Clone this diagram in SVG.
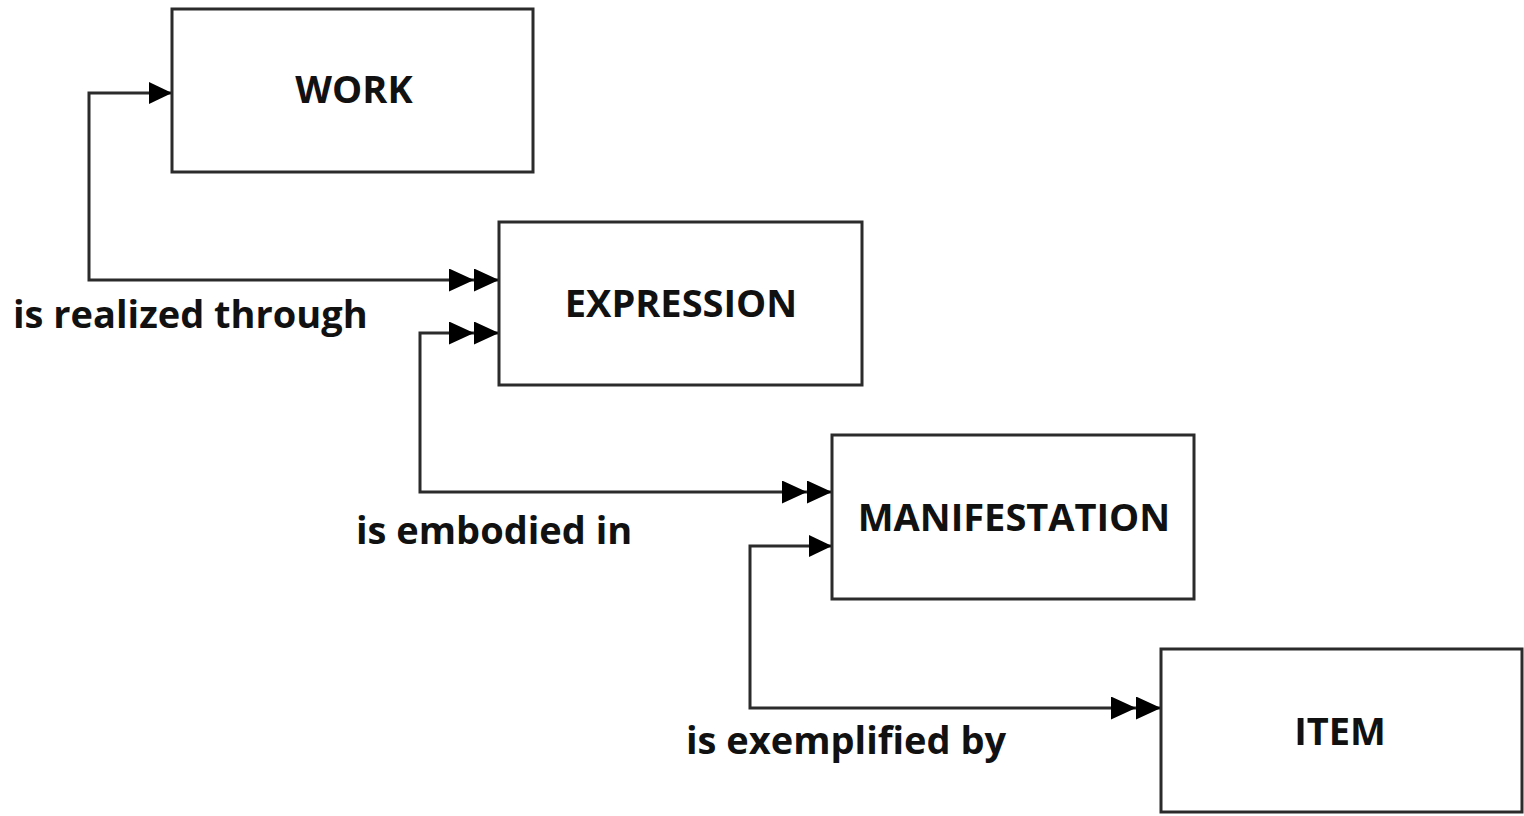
<svg xmlns="http://www.w3.org/2000/svg" width="1524" height="816" viewBox="0 0 1524 816">
<style>
.box{fill:#fff;stroke:#2b2b2b;stroke-width:3}
.t{font-family:"Open Sans","Liberation Sans",sans-serif;font-weight:bold;font-size:38px;fill:#111;text-anchor:middle}
.l{font-family:"Open Sans","Liberation Sans",sans-serif;font-weight:bold;font-size:38px;fill:#111}
.c{fill:none;stroke:#2b2b2b;stroke-width:3}
</style>
<defs>
<marker id="a1" markerUnits="userSpaceOnUse" viewBox="0 0 23 22" markerWidth="23" markerHeight="22" refX="23" refY="11" orient="auto-start-reverse"><path d="M0,0 L23,11 L0,22 z" fill="#000"/></marker>
<marker id="a2" markerUnits="userSpaceOnUse" viewBox="0 0 50 23" markerWidth="50" markerHeight="23" refX="50" refY="11.5" orient="auto-start-reverse"><path d="M0,0 L25,11.5 L0,23 z M25,0 L50,11.5 L25,23 z" fill="#000"/></marker>
</defs>
<rect width="1524" height="816" fill="#fff"/>
<g id="connectors">
<path class="c" d="M172,93 H89 V280 H499" marker-start="url(#a1)" marker-end="url(#a2)"/>
<path class="c" d="M499,333 H420 V492 H832" marker-start="url(#a2)" marker-end="url(#a2)"/>
<path class="c" d="M832,546 H750 V708 H1161" marker-start="url(#a1)" marker-end="url(#a2)"/>
</g>
<g id="work"><rect class="box" x="172" y="9" width="361" height="163"/><text class="t" x="354" y="103">WORK</text></g>
<g id="expression"><rect class="box" x="499" y="222" width="363" height="163"/><text class="t" x="681" y="317">EXPRESSION</text></g>
<g id="manifestation"><rect class="box" x="832" y="435" width="362" height="164"/><text class="t" x="1014" y="531">MANIFESTATION</text></g>
<g id="item"><rect class="box" x="1161" y="649" width="361" height="163"/><text class="t" x="1340" y="745">ITEM</text></g>
<g id="labels">
<text class="l" x="13" y="328">is realized through</text>
<text class="l" x="356" y="544">is embodied in</text>
<text class="l" x="686" y="754">is exemplified by</text>
</g>
</svg>
